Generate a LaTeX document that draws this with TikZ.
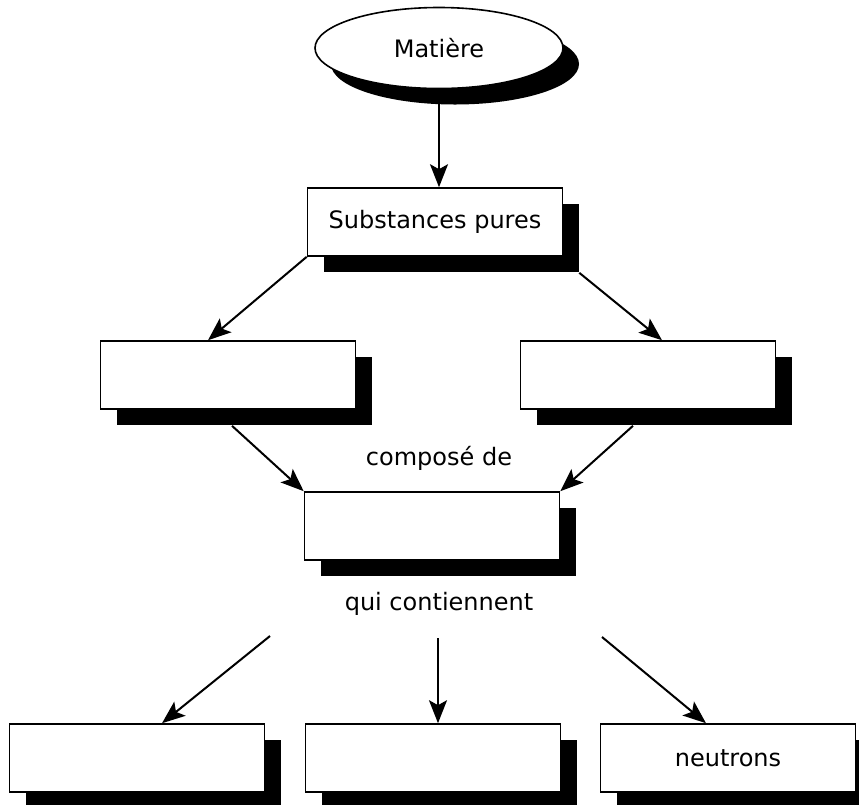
\documentclass[tikz,border=0pt]{standalone}
\usepackage{fontspec}
\setmainfont{DejaVu Sans}
\usetikzlibrary{shapes.geometric,shadows,arrows.meta}

\tikzset{
  shade/.style={drop shadow={shadow xshift=16pt, shadow yshift=-16pt, fill=black, opacity=1}},
  box/.style={draw, fill=white, line width=1.6pt, inner sep=0pt,
    minimum width=255pt, minimum height=68pt, shade},
  oval/.style={ellipse, draw, fill=white, line width=1.6pt, inner sep=0pt,
    minimum width=248pt, minimum height=81pt, shade},
  arr/.style={-{Stealth[length=23pt, width=18pt, inset=5pt]}, line width=2pt},
}

\begin{document}
\begin{tikzpicture}[x=1pt, y=-1pt, font=\fontsize{24}{28}\selectfont]
\useasboundingbox (0,0) rectangle (859,804);
% the five levels
\node[oval] (mat) at (439,48) {Matière};
\node[box] (sp) at (435,222) {Substances pures};
\node[box] (left) at (228,375) {};
\node[box] (right) at (648,375) {};
\node (lbl1) at (439,458) {composé de};
\node[box] (comp) at (432,526) {};
\node (lbl2) at (439,604) {qui contiennent};
\node[box] (b1) at (137,758) {};
\node[box] (b2) at (433,758) {};
\node[box] (b3) at (728,758) {neutrons};
% arrows
\draw[arr] (mat.south) -- (mat.south |- sp.north);
\draw[arr] (sp.south west) -- ([xshift=-20pt]left.north);
\draw[arr] ([shift={(16pt,-16pt)}]sp.south east) -- ([xshift=14pt]right.north);
\draw[arr] ([shift={(4pt,-16pt)}]left.south) -- (comp.north west);
\draw[arr] ([shift={(-15pt,-16pt)}]right.south) -- (comp.north east);
\coordinate (q1) at (270,636);
\coordinate (q2) at (438,638);
\coordinate (q3) at (602,637);
\draw[arr] (q1) -- ([xshift=25pt]b1.north);
\draw[arr] (q2) -- (q2 |- b2.north);
\draw[arr] (q3) -- ([xshift=-22pt]b3.north);
\end{tikzpicture}
\end{document}
